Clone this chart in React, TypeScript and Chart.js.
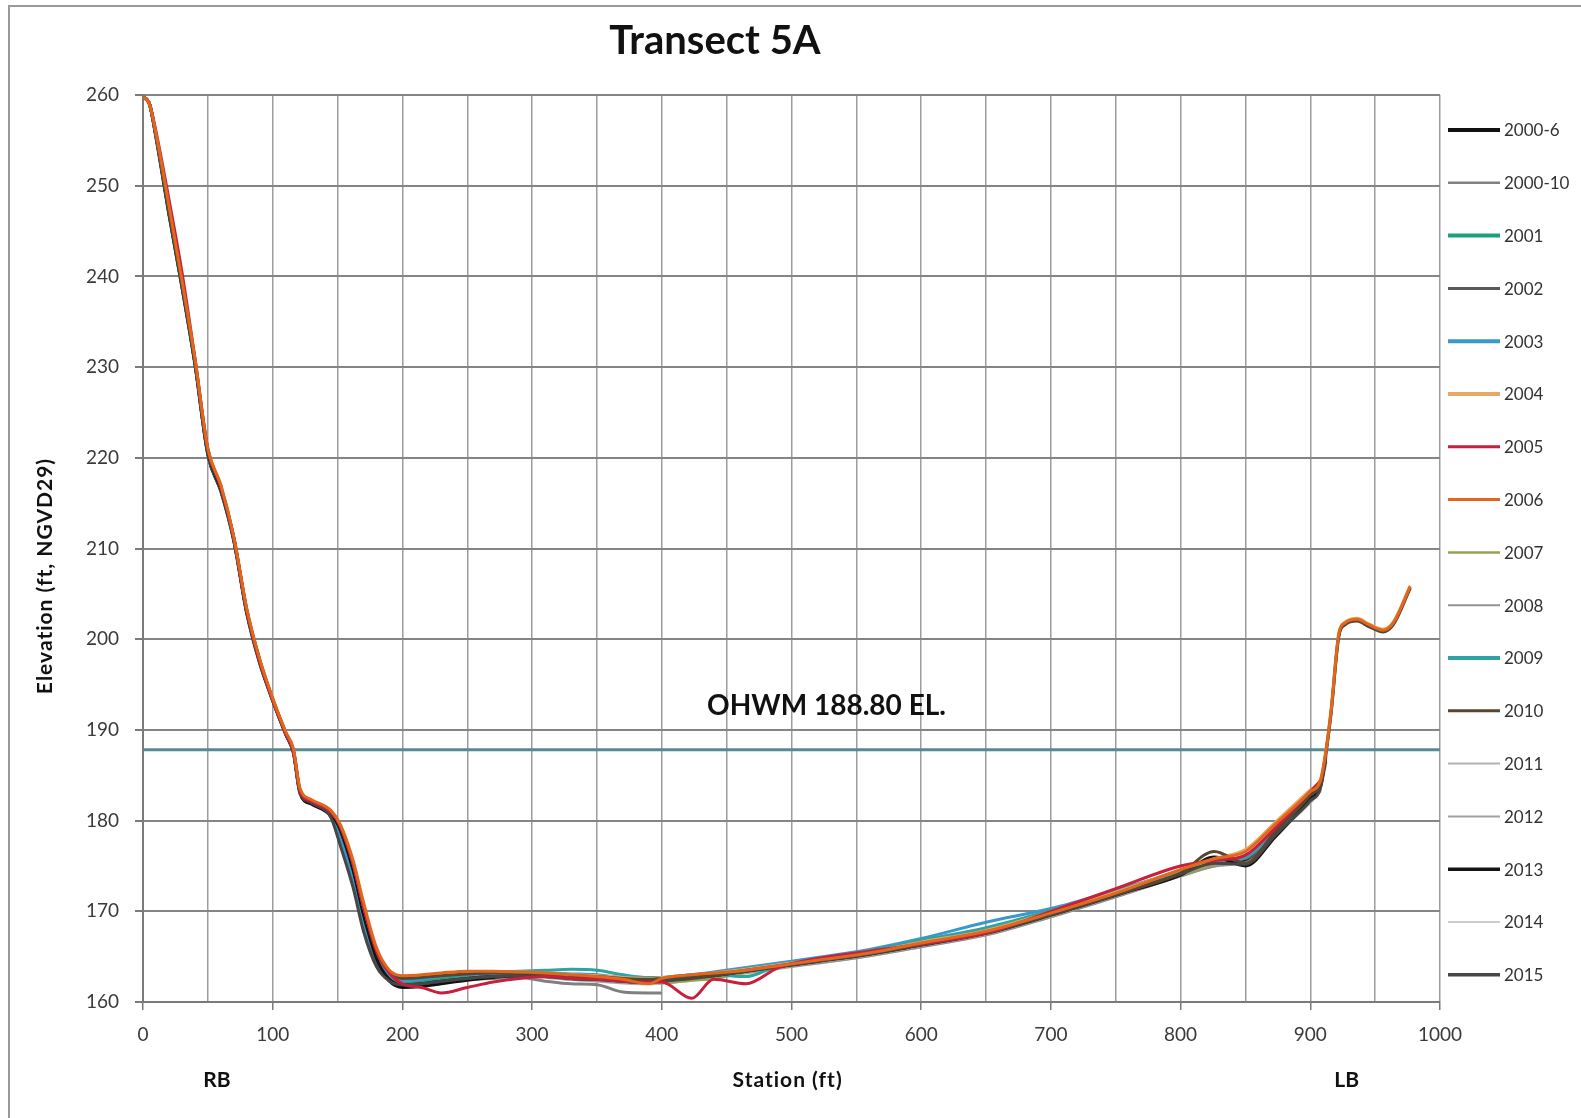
import React, { useEffect, useRef } from "react";
import { Chart, registerables } from "chart.js";

Chart.register(...registerables);

// ---------- data ----------
const STATIONS = [0, 5, 10, 20, 30, 40, 50, 60, 70, 80, 90, 100, 110, 116, 121, 130, 145, 152, 162, 170, 180, 190, 200, 215, 230, 250, 270, 290, 310, 330, 350, 370, 390, 400, 423, 440, 465, 490, 520, 560, 600, 650, 700, 750, 800, 826, 850, 873, 900, 908, 912, 916, 922, 927, 936, 945, 956, 964, 977];

const SERIES_NAMES = ["2000-6", "2000-10", "2001", "2002", "2003", "2004", "2005", "2006", "2007", "2008", "2009", "2010", "2011", "2012", "2013", "2014", "2015"];

const E_2000_6 = [259.8, 259.0, 255.3, 246.8, 238.8, 230.3, 220.3, 216.3, 210.8, 202.8, 197.3, 193.2, 189.5, 187.4, 183.0, 181.8, 180.5, 178.8, 174.0, 169.0, 164.5, 162.3, 161.6, 161.7, 162.0, 162.4, 162.7, 162.9, 162.9, 162.6, 162.5, 162.3, 162.2, 162.3, 162.6, 162.9, 163.4, 163.9, 164.5, 165.3, 166.3, 167.6, 169.6, 171.8, 174.1, 175.3, 175.7, 178.8, 182.6, 184.0, 187.0, null, null, null, null, null, null, null, null];
const E_2000_10 = [259.8, 259.0, 255.5, 247.0, 239.0, 230.5, 220.5, 216.5, 211.0, 203.0, 197.5, 193.3, 189.6, 187.6, 183.2, 182.0, 180.5, 178.5, 173.5, 168.5, 164.5, 162.5, 162.0, 162.1, 162.3, 162.5, 162.6, 162.7, 162.3, 162.0, 161.9, 161.1, 161.0, 161.0, null, null, null, null, null, null, null, null, null, null, null, null, null, null, null, null, null, null, null, null, null, null, null, null, null];
const E_2001 = [259.8, 259.0, 255.6, 247.2, 239.2, 230.6, 220.6, 216.6, 211.1, 203.1, 197.6, 193.3, 189.6, 187.6, 183.3, 182.0, 180.7, 179.0, 174.6, 169.8, 165.0, 162.8, 162.2, 162.3, 162.5, 162.8, 163.0, 163.2, 163.2, 163.0, 162.9, 162.6, 162.5, 162.6, 163.0, 163.1, 163.6, 164.1, 164.7, 165.5, 166.6, 167.9, 169.9, 172.1, 174.3, 175.5, 176.0, 179.0, 182.8, 184.1, null, null, null, null, null, null, null, null, null];
const E_2002 = [259.8, 259.0, 255.5, 247.0, 239.0, 230.5, 220.5, 216.5, 211.0, 203.0, 197.5, 193.3, 189.6, 187.6, 183.2, 182.0, 180.4, 177.5, 173.0, 168.3, 164.2, 162.4, 161.9, 162.0, 162.3, 162.6, 162.8, 162.9, 162.8, 162.6, 162.5, 162.3, 162.2, 162.4, 162.7, 163.0, 163.6, 164.2, 164.8, 165.6, 166.7, 168.0, 170.0, 172.2, 174.5, 175.7, 175.8, 178.6, 182.3, 183.8, 186.5, null, null, null, null, null, null, null, null];
const E_2003 = [259.8, 259.0, 255.5, 247.0, 239.0, 230.5, 220.5, 216.5, 211.0, 203.0, 197.5, 193.3, 189.6, 187.6, 183.2, 182.0, 180.5, 178.0, 173.5, 168.8, 164.8, 162.8, 162.3, 162.5, 162.8, 163.0, 163.1, 163.2, 163.2, 163.1, 163.0, 162.7, 162.6, 162.7, 163.0, 163.3, 163.8, 164.3, 164.9, 165.8, 167.0, 168.8, 170.3, 172.3, 174.4, 175.4, 175.9, 178.8, 182.4, 183.6, null, null, null, null, null, null, null, null, null];
const E_2004 = [259.8, 259.0, 255.7, 247.5, 239.5, 231.0, 221.0, 217.0, 211.3, 203.3, 197.8, 193.5, 189.8, 187.8, 183.4, 182.2, 181.0, 179.5, 175.3, 170.6, 165.8, 163.4, 162.8, 162.9, 163.1, 163.3, 163.3, 163.3, 163.2, 163.0, 162.9, 162.7, 162.6, 162.7, 162.9, 163.2, 163.6, 164.1, 164.7, 165.5, 166.6, 167.9, 169.9, 172.1, 174.6, 175.8, 176.8, 179.8, 183.4, 184.6, 187.8, 192.3, 200.7, 201.9, 202.3, 201.7, 201.1, 201.9, 205.9];
const E_2005 = [259.8, 259.0, 256.0, 248.5, 240.5, 231.0, 221.0, 216.8, 211.2, 203.2, 197.6, 193.3, 189.6, 187.6, 183.3, 182.1, 180.9, 179.4, 175.2, 170.5, 165.6, 163.2, 162.0, 161.6, 161.0, 161.6, 162.2, 162.6, 162.8, 162.6, 162.5, 162.3, 162.2, 162.2, 160.4, 162.5, 162.0, 163.8, 164.8, 165.6, 166.4, 167.6, 170.0, 172.5, 175.0, 175.6, 176.2, 179.2, 183.2, 184.4, null, null, null, null, null, null, null, null, null];
const E_2006 = [259.8, 259.0, 255.8, 247.8, 239.6, 231.0, 221.0, 217.0, 211.3, 203.4, 197.8, 193.5, 189.8, 187.9, 183.6, 182.3, 181.1, 179.6, 175.6, 171.0, 166.0, 163.5, 162.9, 163.0, 163.2, 163.4, 163.4, 163.3, 163.2, 163.0, 162.8, 162.5, 162.0, 162.6, 163.0, 163.2, 163.5, 164.0, 164.6, 165.4, 166.5, 167.8, 169.8, 172.0, 174.6, 175.8, 176.6, 179.6, 183.2, 184.5, 187.6, 192.1, 200.6, 201.8, 202.2, 201.6, 201.0, 201.8, 205.8];
const E_2007 = [259.8, 259.0, 255.5, 247.0, 239.0, 230.5, 220.5, 216.5, 211.0, 203.0, 197.5, 193.3, 189.6, 187.6, 183.2, 182.0, 180.7, 179.1, 174.8, 170.0, 165.2, 162.9, 162.3, 162.4, 162.6, 162.9, 163.0, 163.0, 162.9, 162.7, 162.6, 162.4, 162.3, 162.1, 162.4, 162.6, 163.3, 163.9, 164.5, 165.3, 166.3, 167.6, 169.6, 171.8, 174.0, 175.2, 176.0, 179.0, 182.8, 184.0, null, null, null, null, null, null, null, null, null];
const E_2008 = [259.8, 259.0, 255.5, 247.0, 239.0, 230.5, 220.5, 216.5, 211.0, 203.0, 197.5, 193.3, 189.6, 187.6, 183.2, 182.0, 180.6, 178.6, 173.8, 169.0, 164.8, 162.6, 162.1, 162.2, 162.4, 162.7, 162.8, 162.9, 162.8, 162.5, 162.4, 162.2, 162.1, 162.2, 162.5, 162.8, 163.3, 163.8, 164.3, 165.1, 166.1, 167.4, 169.4, 171.6, 173.9, 175.0, 175.6, 178.6, 182.2, 183.5, null, null, null, null, null, null, null, null, null];
const E_2009 = [259.8, 259.0, 255.5, 247.0, 239.0, 230.5, 220.5, 216.5, 211.0, 203.0, 197.5, 193.3, 189.6, 187.6, 183.2, 182.0, 180.7, 179.0, 174.6, 169.9, 165.1, 163.2, 162.8, 162.9, 163.0, 163.2, 163.3, 163.4, 163.5, 163.6, 163.5, 163.0, 162.7, 162.7, 162.9, 163.0, 162.8, 164.0, 164.7, 165.6, 166.8, 168.2, 170.1, 172.2, 174.4, 175.5, 176.1, 179.1, 182.6, 183.8, null, null, null, null, null, null, null, null, null];
const E_2010 = [259.8, 259.0, 255.6, 247.3, 239.3, 230.8, 220.8, 216.8, 211.2, 203.2, 197.7, 193.4, 189.7, 187.7, 183.4, 182.2, 181.0, 179.4, 175.3, 170.6, 165.7, 163.3, 162.6, 162.7, 162.9, 163.1, 163.2, 163.2, 163.1, 162.9, 162.8, 162.6, 162.5, 162.6, 162.8, 163.0, 163.5, 164.0, 164.6, 165.4, 166.4, 167.7, 169.7, 171.9, 174.2, 176.6, 175.3, 178.8, 182.8, 184.2, 187.4, 191.9, 200.4, 201.7, 202.1, 201.5, 200.9, 201.7, 205.7];
const E_2011 = [259.8, 259.0, 255.5, 247.0, 239.0, 230.5, 220.5, 216.5, 211.0, 203.0, 197.5, 193.3, 189.6, 187.6, 183.2, 182.0, 180.6, 178.8, 174.2, 169.5, 164.9, 162.7, 162.1, 162.2, 162.4, 162.6, 162.7, 162.8, 162.7, 162.5, 162.3, 162.1, 162.0, 162.1, 162.4, 162.7, 163.2, 163.7, 164.3, 165.1, 166.1, 167.4, 169.4, 171.6, 173.9, 175.0, 175.5, 178.5, 182.0, 183.3, null, null, null, null, null, null, null, null, null];
const E_2012 = [259.8, 259.0, 255.5, 247.0, 239.0, 230.5, 220.5, 216.5, 211.0, 203.0, 197.5, 193.3, 189.6, 187.6, 183.2, 182.0, 180.6, 178.9, 174.4, 169.7, 165.0, 162.8, 162.2, 162.3, 162.5, 162.7, 162.8, 162.9, 162.8, 162.6, 162.4, 162.2, 162.1, 162.2, 162.5, 162.8, 163.3, 163.8, 164.4, 165.2, 166.2, 167.5, 169.5, 171.7, 174.0, 175.1, 175.6, 178.6, 182.1, 183.4, null, null, null, null, null, null, null, null, null];
const E_2013 = [259.8, 259.0, 255.5, 247.0, 239.0, 230.5, 220.5, 216.5, 211.0, 203.0, 197.5, 193.3, 189.6, 187.6, 183.2, 182.0, 180.7, 179.0, 174.5, 169.6, 164.8, 162.5, 161.9, 162.0, 162.3, 162.6, 162.8, 162.9, 162.9, 162.7, 162.6, 162.4, 162.3, 162.4, 162.7, 162.9, 163.4, 163.9, 164.5, 165.3, 166.3, 167.6, 169.6, 171.8, 174.0, 176.0, 175.0, 178.2, 182.4, 183.9, 187.2, null, null, null, null, null, null, null, null];
const E_2014 = [259.8, 259.0, 255.5, 247.0, 239.0, 230.5, 220.5, 216.5, 211.0, 203.0, 197.5, 193.3, 189.6, 187.6, 183.2, 182.0, 180.7, 179.1, 174.8, 170.0, 165.2, 162.9, 162.3, 162.4, 162.6, 162.9, 163.0, 163.0, 162.9, 162.7, 162.6, 162.4, 162.3, 162.4, 162.7, 162.9, 163.4, 163.9, 164.5, 165.3, 166.4, 167.7, 169.7, 171.9, 174.2, 175.4, 176.0, 179.0, 182.7, 183.9, null, null, null, null, null, null, null, null, null];
const E_2015 = [259.8, 259.0, 255.6, 247.2, 239.2, 230.7, 220.7, 216.7, 211.1, 203.1, 197.6, 193.3, 189.6, 187.6, 183.3, 182.0, 180.3, 177.3, 172.6, 167.8, 163.9, 162.3, 161.9, 162.0, 162.3, 162.6, 162.8, 162.9, 162.8, 162.6, 162.5, 162.3, 162.2, 162.3, 162.6, 162.9, 163.4, 163.9, 164.5, 165.3, 166.3, 167.6, 169.6, 171.8, 174.1, 175.3, 175.2, 178.4, 182.2, 183.7, 187.3, 191.8, 200.3, 201.6, 202.0, 201.4, 200.8, 201.6, 205.6];

const SERIES_VALUES = [E_2000_6, E_2000_10, E_2001, E_2002, E_2003, E_2004, E_2005, E_2006, E_2007, E_2008, E_2009, E_2010, E_2011, E_2012, E_2013, E_2014, E_2015];

const OHWM_ELEVATION = 187.8;
const OHWM_LABEL = "OHWM 188.80 EL.";
const X_RANGE = [0, 1000];
const Y_RANGE = [160, 260];

// ---------- styles ----------
const SERIES_COLORS = ["#111111", "#808080", "#1f9e7c", "#595959", "#3a98cc", "#e6a865", "#c8203c", "#e2661c", "#9aa152", "#929292", "#2fa3a3", "#5a4630", "#b2b2b2", "#a2a2a2", "#141414", "#cdcdcd", "#474747"];
const LEGEND_WIDTHS = [4, 2.5, 4, 3, 4, 4, 3, 3, 2.5, 2, 4, 3, 2, 2, 3.5, 2, 3.5];
// stacking, first = top-most
const TOP_TO_BOTTOM = ["2006", "2005", "2010", "2004", "2015", "2013", "2009", "2003", "2001", "2002", "2007", "2000-6", "2008", "2012", "2011", "2000-10", "2014"];
const FONT = "Lato, 'Open Sans', sans-serif";

const overlayPlugin = {
  id: "overlay",
  afterDraw(chart: any) {
    const ctx = chart.ctx as any;
    const xs = chart.scales.x;
    const ys = chart.scales.y;
    ctx.save();
    // frame
    ctx.strokeStyle = "#9a9a9a";
    ctx.lineWidth = 2;
    ctx.beginPath();
    ctx.moveTo(9, 1118);
    ctx.lineTo(9, 6);
    ctx.lineTo(1581, 6);
    ctx.stroke();

    ctx.fillStyle = "#111111";
    ctx.textAlign = "center";
    ctx.textBaseline = "middle";
    ctx.font = `bold 40px ${FONT}`;
    ctx.fillText("Transect 5A", 715, 41);

    ctx.font = `bold 28px ${FONT}`;
    ctx.fillText(OHWM_LABEL, xs.getPixelForValue(527), ys.getPixelForValue(192.6));

    ctx.font = `bold 21px ${FONT}`;
    ctx.fillText("RB", xs.getPixelForValue(57), 1080);
    ctx.letterSpacing = "1px";
    ctx.fillText("Station (ft)", xs.getPixelForValue(497), 1080);
    ctx.letterSpacing = "0px";
    ctx.fillText("LB", xs.getPixelForValue(928), 1080);

    ctx.save();
    ctx.translate(45, 576);
    ctx.rotate(-Math.PI / 2);
    ctx.letterSpacing = "1px";
    ctx.fillText("Elevation (ft, NGVD29)", 0, 0);
    ctx.restore();

    // legend
    ctx.textAlign = "left";
    ctx.font = `17px ${FONT}`;
    SERIES_NAMES.forEach((name, i) => {
      const y = 130 + i * 52.8;
      ctx.strokeStyle = SERIES_COLORS[i];
      ctx.lineWidth = LEGEND_WIDTHS[i];
      ctx.beginPath();
      ctx.moveTo(1448, y);
      ctx.lineTo(1500, y);
      ctx.stroke();
      ctx.fillStyle = "#333333";
      ctx.fillText(name, 1504, y + 1);
    });
    ctx.restore();
  },
};

export default function App() {
  const ref = useRef<HTMLCanvasElement | null>(null);

  useEffect(() => {
    if (!ref.current) return;
    const n = SERIES_NAMES.length;
    const profileSets = SERIES_NAMES.map((name, i) => ({
      label: name,
      data: STATIONS.map((s, j) => ({ x: s, y: SERIES_VALUES[i][j] })).filter((p) => p.y !== null),
      borderColor: SERIES_COLORS[i],
      borderWidth: 3,
      pointRadius: 0,
      cubicInterpolationMode: "monotone" as const,
      fill: false,
      order: TOP_TO_BOTTOM.indexOf(name) + 1,
    }));
    const ohwmSet = {
      label: "OHWM",
      data: [
        { x: X_RANGE[0], y: OHWM_ELEVATION },
        { x: X_RANGE[1], y: OHWM_ELEVATION },
      ],
      borderColor: "#568a93",
      borderWidth: 3,
      pointRadius: 0,
      fill: false,
      order: n + 5,
    };

    const tickFont = { family: FONT, size: 19 };

    const chart = new Chart(ref.current, {
      type: "line",
      data: { datasets: [ohwmSet, ...profileSets] as any },
      options: {
        animation: false,
        responsive: false,
        maintainAspectRatio: false,
        layout: { padding: { left: 0, top: 95, right: 141, bottom: 0 } },
        plugins: { legend: { display: false }, title: { display: false }, tooltip: { enabled: false } },
        scales: {
          x: {
            type: "linear",
            min: X_RANGE[0],
            max: X_RANGE[1],
            afterFit: (scale: any) => {
              scale.height = 116;
            },
            ticks: {
              stepSize: 50,
              autoSkip: false,
              maxRotation: 0,
              padding: 13,
              color: "#3a3a3a",
              font: tickFont,
              callback: (v: any) => (Number(v) % 100 === 0 ? String(v) : ""),
            },
            grid: {
              color: "#9c9c9c",
              lineWidth: 1.5,
              tickLength: 8,
              tickColor: (c: any) => (c.tick && c.tick.value % 100 === 0 ? "#7a7a7a" : "rgba(0,0,0,0)"),
            },
            border: { color: "#7a7a7a", width: 2 },
          },
          y: {
            type: "linear",
            min: Y_RANGE[0],
            max: Y_RANGE[1],
            afterFit: (scale: any) => {
              scale.width = 143;
            },
            ticks: {
              stepSize: 10,
              padding: 16,
              color: "#3a3a3a",
              font: tickFont,
            },
            grid: { color: "#858585", lineWidth: 2, tickLength: 8, tickColor: "#7a7a7a" },
            border: { color: "#7a7a7a", width: 2 },
          },
        },
      },
      plugins: [overlayPlugin],
    });
    return () => chart.destroy();
  }, []);

  return (
    <div style={{ position: "absolute", left: 0, top: 0, width: 1581, height: 1118, background: "#ffffff" }}>
      <canvas ref={ref} width={1581} height={1118} style={{ display: "block" }} />
    </div>
  );
}
